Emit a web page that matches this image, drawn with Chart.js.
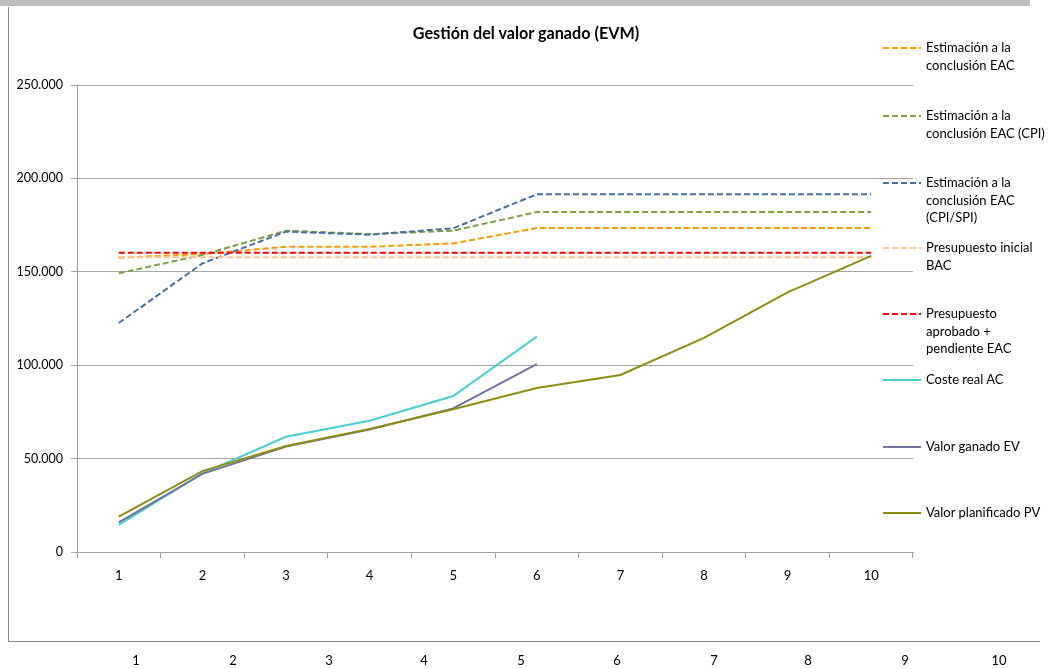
<!DOCTYPE html>
<html>
<head>
<meta charset="utf-8">
<script src="https://cdn.jsdelivr.net/npm/chart.js@4.4.1/dist/chart.umd.min.js"></script>
<style>
  html, body { margin: 0; padding: 0; background: #fff; }
  body { width: 1048px; height: 669px; position: relative; overflow: hidden; font-family: Lato, "Open Sans", sans-serif; color: #000; }
  #wrap { position: absolute; left: 0; top: 0; width: 1048px; height: 669px; }
  #topbar { position: absolute; left: 0; top: 0; width: 1030px; height: 6px; background: #bdbdbd; }
  #frameL { position: absolute; left: 8px; top: 7px; width: 1px; height: 634px; background: #8a8a8a; }
  #frameB { position: absolute; left: 8px; top: 641px; width: 1032px; height: 1px; background: #8a8a8a; }
  #title { position: absolute; left: 0; width: 1052px; top: 23px; text-align: center; font-weight: bold; font-size: 16.2px; }
  .lg { position: absolute; left: 883px; font-size: 13px; line-height: 17.5px; white-space: pre-line; }
  .lg svg { position: absolute; left: 0; top: 0; }
  .lg span { position: absolute; left: 43px; top: 0; white-space: pre; }
  .bl { position: absolute; top: 652px; font-size: 13px; width: 40px; margin-left: -20px; text-align: center; }
</style>
</head>
<body>
<div id="topbar"></div>
<div id="frameL"></div>
<div id="frameB"></div>
<div id="wrap"><canvas id="c"></canvas></div>
<div id="title">Gestión del valor ganado (EVM)</div>
<div id="legend"></div>
<div id="bottomLabels"></div>
<script>
const categories = ["1","2","3","4","5","6","7","8","9","10"];
const yTicks = [0, 50000, 100000, 150000, 200000, 250000];

const eac       = [157500, 159500, 163400, 163400, 165200, 173400, 173400, 173400, 173400, 173400];
const eacCpi    = [149200, 159000, 172000, 170200, 172000, 182000, 182000, 182000, 182000, 182000];
const eacCpiSpi = [122600, 154500, 171500, 169900, 173300, 191500, 191500, 191500, 191500, 191500];
const bac       = [157800, 157800, 157800, 157800, 157800, 157800, 157800, 157800, 157800, 157800];
const approved  = [160200, 160200, 160200, 160200, 160200, 160200, 160200, 160200, 160200, 160200];
const ac        = [14500, 42100, 61700, 70300, 83500, 115300, null, null, null, null];
const ev        = [15900, 41800, 56400, 65600, 76900, 100600, null, null, null, null];
const pv        = [18900, 43300, 56700, 65800, 76400, 87800, 94800, 114600, 139000, 158500];

const seriesLabels = [
  "Estimación a la\nconclusión EAC",
  "Estimación a la\nconclusión EAC (CPI)",
  "Estimación a la\nconclusión EAC\n(CPI/SPI)",
  "Presupuesto inicial\nBAC",
  "Presupuesto\naprobado +\npendiente EAC",
  "Coste real AC",
  "Valor ganado EV",
  "Valor planificado PV"
];
const seriesData = [eac, eacCpi, eacCpiSpi, bac, approved, ac, ev, pv];
const seriesColors = ["#FF9900", "#7F9F46", "#4A6FA3", "#FCC590", "#FF0000", "#48D0D0", "#7272A2", "#8E8E10"];
const seriesDashed = [true, true, true, true, true, false, false, false];
const legendTops = [48, 116, 183, 248, 314, 380, 447, 513];
const bottomLabelX = [136, 233, 329, 424, 521, 617, 714, 808, 905, 999];

const datasets = seriesData.map((d, i) => ({
  label: seriesLabels[i],
  data: d,
  borderColor: seriesColors[i],
  backgroundColor: seriesColors[i],
  borderWidth: 2,
  borderDash: seriesDashed[i] ? [6, 3] : [],
  pointRadius: 0,
  tension: 0,
  fill: false,
  spanGaps: false,
  order: seriesData.length - i
}));

const fontFamily = "Lato, 'Open Sans', sans-serif";

const chart = new Chart(document.getElementById('c'), {
  type: 'line',
  data: { labels: categories, datasets: datasets },
  options: {
    responsive: true,
    maintainAspectRatio: false,
    animation: false,
    layout: { padding: { left: 0, right: 135, top: 85, bottom: 77 } },
    plugins: { legend: { display: false }, title: { display: false }, tooltip: { enabled: false } },
    scales: {
      x: {
        type: 'category',
        offset: true,
        grid: { display: true, drawOnChartArea: false, drawTicks: true, tickLength: 6, color: '#a0a0a0', offset: true },
        border: { display: true, color: '#a0a0a0', width: 1 },
        ticks: { color: '#000', font: { family: fontFamily, size: 13 }, padding: 10, maxRotation: 0 },
        afterFit: (s) => { s.height = 40; }
      },
      y: {
        min: 0,
        max: 250000,
        afterBuildTicks: (s) => { s.ticks = yTicks.map(v => ({ value: v })); },
        grid: { color: '#a6a6a6', lineWidth: 1, drawTicks: true, tickLength: 6 },
        border: { display: true, color: '#a0a0a0', width: 1 },
        ticks: {
          color: '#000',
          font: { family: fontFamily, size: 12.5 },
          padding: 8,
          callback: (v) => v.toLocaleString('de-DE')
        },
        afterFit: (s) => { s.width = 77; }
      }
    }
  }
});

// HTML legend built from the chart's datasets
const legendEl = document.getElementById('legend');
chart.data.datasets.forEach((ds, i) => {
  const item = document.createElement('div');
  item.className = 'lg';
  item.style.top = (legendTops[i] - 9) + 'px';
  const dash = ds.borderDash.length ? `stroke-dasharray="${ds.borderDash.join(',')}"` : '';
  item.innerHTML = `<svg width="40" height="18"><line x1="0" y1="9" x2="38" y2="9" stroke="${ds.borderColor}" stroke-width="2" ${dash}/></svg><span>${ds.label}</span>`;
  legendEl.appendChild(item);
});

// Second row of category labels at the bottom
const bl = document.getElementById('bottomLabels');
categories.forEach((c, i) => {
  const s = document.createElement('div');
  s.className = 'bl';
  s.style.left = bottomLabelX[i] + 'px';
  s.textContent = c;
  bl.appendChild(s);
});
</script>
</body>
</html>
